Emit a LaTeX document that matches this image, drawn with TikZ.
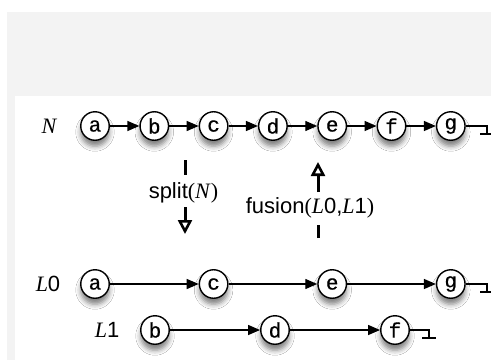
\documentclass[tikz,border=0pt]{standalone}
\usepackage{fontspec}
\setmainfont{Liberation Sans}
\newfontfamily\cour[FakeBold=0.5]{Liberation Mono}
\newfontfamily\tms{Liberation Serif}
\usetikzlibrary{arrows.meta,shadows.blur}
\definecolor{panelgrey}{HTML}{F3F3F3}
\begin{document}
\begin{tikzpicture}[x=1pt,y=-1pt,
  elem/.style={circle, draw, line width=1.4pt, fill=white, minimum size=28.5pt,
    inner sep=0pt, font=\fontsize{21}{21}\cour,
    blur shadow={shadow xshift=0pt, shadow yshift=-6pt,
      shadow blur radius=5pt, shadow opacity=50}},
  link/.style={line width=1.4pt, -{Triangle[length=12pt,width=10pt]}},
  nil/.style={line width=1.4pt},
  lbl/.style={font=\fontsize{22}{22}\selectfont, inner sep=0pt, anchor=base},
  op/.style={line width=3pt},
  optip/.style={op, -{Triangle[open,length=14pt,width=14pt,line width=2.6pt]}}]
\useasboundingbox (0,0) rectangle (491,360);
% panels
\fill[panelgrey] (7,12) rectangle (491,360);
\fill[white] (15,96) rectangle (491,360);

% list N
\node[lbl] (labN) at (49,133) {\tms\itshape N};
\foreach \n [count=\i from 0] in {a,b,c,d,e,f,g}
  \node[elem] (N\n) at (95+59.3*\i,126) {\n};
\foreach \p/\q in {a/b,b/c,c/d,d/e,e/f,f/g}
  \draw[link] (N\p) -- (N\q);
\coordinate (Nnil) at (487,126);
\draw[nil] (Ng) -- (Nnil) -- ++(0,8) ++(-7,0) -- ++(14,0);

% list L0
\node[lbl] (labL0) at (48,291) {{\tms\itshape L}0};
\node[elem] (La) at (95,284) {a};
\node[elem] (Lc) at (213.6,284) {c};
\node[elem] (Le) at (332.2,284) {e};
\node[elem] (Lg) at (450.8,284) {g};
\draw[link] (La) -- (Lc);
\draw[link] (Lc) -- (Le);
\draw[link] (Le) -- (Lg);
\coordinate (L0nil) at (487,284);
\draw[nil] (Lg) -- (L0nil) -- ++(0,8) ++(-7,0) -- ++(14,0);

% list L1
\node[lbl] (labL1) at (107,337) {{\tms\itshape L}1};
\node[elem] (Mb) at (155,330) {b};
\node[elem] (Md) at (275,330) {d};
\node[elem] (Mf) at (395,330) {f};
\draw[link] (Mb) -- (Md);
\draw[link] (Md) -- (Mf);
\coordinate (L1nil) at (429,330);
\draw[nil] (Mf) -- (L1nil) -- ++(0,8) ++(-7,0) -- ++(14,0);

% split
\node[lbl] (splitlbl) at (183.5,198) {split{\tms(\itshape N\/\upshape)}};
\coordinate (s1) at (185,160);
\coordinate (s2) at (185,175);
\coordinate (s3) at (185,207);
\coordinate (s4) at (185,234);
\draw[op] (s1) -- (s2);
\draw[optip] (s3) -- (s4);

% fusion
\node[lbl] (fuslbl) at (310,213) {fusion{\tms(\itshape L\upshape}0,{\tms\itshape L}1{\tms)}};
\coordinate (f1) at (318,238);
\coordinate (f2) at (318,225);
\coordinate (f3) at (318,192);
\coordinate (f4) at (318,162);
\draw[op] (f1) -- (f2);
\draw[optip] (f3) -- (f4);
\end{tikzpicture}
\end{document}
